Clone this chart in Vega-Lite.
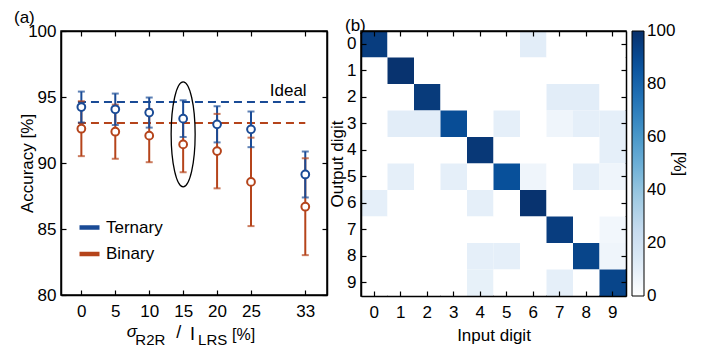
{
  "$schema": "https://vega.github.io/schema/vega-lite/v6.json",
  "background": "white",
  "padding": {"left": 13, "top": 8, "right": 0, "bottom": 0},
  "config": {
    "font": "Liberation Sans",
    "view": {"stroke": "black", "strokeWidth": 1.5},
    "axis": {
      "grid": false,
      "domainColor": "black",
      "domainWidth": 1.5,
      "tickColor": "black",
      "tickSize": -5,
      "tickWidth": 1.2,
      "labelPadding": 10,
      "labelFontSize": 17,
      "labelColor": "black",
      "titleFontSize": 17,
      "titleColor": "black",
      "titleFontWeight": "normal"
    },
    "title": {"fontSize": 17, "fontWeight": "normal", "color": "black", "anchor": "start", "frame": "group"},
    "legend": {"labelFontSize": 17, "labelColor": "black", "titleFontSize": 17, "titleFontWeight": "normal", "titleColor": "black"}
  },
  "datasets": {
    "acc": [
      {"sigma": 0, "series": "Binary", "acc": 92.6, "lo": 90.52, "hi": 94.68},
      {"sigma": 5, "series": "Binary", "acc": 92.37, "lo": 90.32, "hi": 94.42},
      {"sigma": 10, "series": "Binary", "acc": 92.07, "lo": 90.06, "hi": 94.08},
      {"sigma": 15, "series": "Binary", "acc": 91.41, "lo": 89.3, "hi": 93.52},
      {"sigma": 20, "series": "Binary", "acc": 90.9, "lo": 88.08, "hi": 93.72},
      {"sigma": 25, "series": "Binary", "acc": 88.57, "lo": 85.22, "hi": 91.92},
      {"sigma": 33, "series": "Binary", "acc": 86.69, "lo": 83.02, "hi": 90.36},
      {"sigma": 0, "series": "Ternary", "acc": 94.24, "lo": 93.07, "hi": 95.41},
      {"sigma": 5, "series": "Ternary", "acc": 94.07, "lo": 92.88, "hi": 95.26},
      {"sigma": 10, "series": "Ternary", "acc": 93.82, "lo": 92.68, "hi": 94.96},
      {"sigma": 15, "series": "Ternary", "acc": 93.36, "lo": 91.97, "hi": 94.75},
      {"sigma": 20, "series": "Ternary", "acc": 92.93, "lo": 91.56, "hi": 94.3},
      {"sigma": 25, "series": "Ternary", "acc": 92.55, "lo": 91.2, "hi": 93.9},
      {"sigma": 33, "series": "Ternary", "acc": 89.13, "lo": 87.39, "hi": 90.87}
    ],
    "ideal": [
      {"series": "Binary", "xs": -0.5, "xe": 33, "v": 93.03},
      {"series": "Ternary", "xs": -0.5, "xe": 33, "v": 94.62}
    ],
    "cm": [
      {"out": 0, "inp": 0, "pct": 95}, {"out": 0, "inp": 1, "pct": 0}, {"out": 0, "inp": 2, "pct": 0}, {"out": 0, "inp": 3, "pct": 0}, {"out": 0, "inp": 4, "pct": 0}, {"out": 0, "inp": 5, "pct": 0}, {"out": 0, "inp": 6, "pct": 11}, {"out": 0, "inp": 7, "pct": 0}, {"out": 0, "inp": 8, "pct": 0}, {"out": 0, "inp": 9, "pct": 0},
      {"out": 1, "inp": 0, "pct": 0}, {"out": 1, "inp": 1, "pct": 99}, {"out": 1, "inp": 2, "pct": 0}, {"out": 1, "inp": 3, "pct": 0}, {"out": 1, "inp": 4, "pct": 0}, {"out": 1, "inp": 5, "pct": 0}, {"out": 1, "inp": 6, "pct": 0}, {"out": 1, "inp": 7, "pct": 0}, {"out": 1, "inp": 8, "pct": 0}, {"out": 1, "inp": 9, "pct": 0},
      {"out": 2, "inp": 0, "pct": 0}, {"out": 2, "inp": 1, "pct": 0}, {"out": 2, "inp": 2, "pct": 96}, {"out": 2, "inp": 3, "pct": 0}, {"out": 2, "inp": 4, "pct": 0}, {"out": 2, "inp": 5, "pct": 0}, {"out": 2, "inp": 6, "pct": 0}, {"out": 2, "inp": 7, "pct": 11}, {"out": 2, "inp": 8, "pct": 11}, {"out": 2, "inp": 9, "pct": 0},
      {"out": 3, "inp": 0, "pct": 0}, {"out": 3, "inp": 1, "pct": 11}, {"out": 3, "inp": 2, "pct": 11}, {"out": 3, "inp": 3, "pct": 89}, {"out": 3, "inp": 4, "pct": 0}, {"out": 3, "inp": 5, "pct": 10}, {"out": 3, "inp": 6, "pct": 0}, {"out": 3, "inp": 7, "pct": 6}, {"out": 3, "inp": 8, "pct": 10}, {"out": 3, "inp": 9, "pct": 10},
      {"out": 4, "inp": 0, "pct": 0}, {"out": 4, "inp": 1, "pct": 0}, {"out": 4, "inp": 2, "pct": 0}, {"out": 4, "inp": 3, "pct": 0}, {"out": 4, "inp": 4, "pct": 97}, {"out": 4, "inp": 5, "pct": 0}, {"out": 4, "inp": 6, "pct": 0}, {"out": 4, "inp": 7, "pct": 0}, {"out": 4, "inp": 8, "pct": 0}, {"out": 4, "inp": 9, "pct": 10},
      {"out": 5, "inp": 0, "pct": 0}, {"out": 5, "inp": 1, "pct": 10}, {"out": 5, "inp": 2, "pct": 0}, {"out": 5, "inp": 3, "pct": 10}, {"out": 5, "inp": 4, "pct": 0}, {"out": 5, "inp": 5, "pct": 88}, {"out": 5, "inp": 6, "pct": 6}, {"out": 5, "inp": 7, "pct": 0}, {"out": 5, "inp": 8, "pct": 10}, {"out": 5, "inp": 9, "pct": 6},
      {"out": 6, "inp": 0, "pct": 10}, {"out": 6, "inp": 1, "pct": 0}, {"out": 6, "inp": 2, "pct": 0}, {"out": 6, "inp": 3, "pct": 0}, {"out": 6, "inp": 4, "pct": 10}, {"out": 6, "inp": 5, "pct": 0}, {"out": 6, "inp": 6, "pct": 99}, {"out": 6, "inp": 7, "pct": 0}, {"out": 6, "inp": 8, "pct": 0}, {"out": 6, "inp": 9, "pct": 0},
      {"out": 7, "inp": 0, "pct": 0}, {"out": 7, "inp": 1, "pct": 0}, {"out": 7, "inp": 2, "pct": 0}, {"out": 7, "inp": 3, "pct": 0}, {"out": 7, "inp": 4, "pct": 0}, {"out": 7, "inp": 5, "pct": 0}, {"out": 7, "inp": 6, "pct": 0}, {"out": 7, "inp": 7, "pct": 95}, {"out": 7, "inp": 8, "pct": 0}, {"out": 7, "inp": 9, "pct": 5},
      {"out": 8, "inp": 0, "pct": 0}, {"out": 8, "inp": 1, "pct": 0}, {"out": 8, "inp": 2, "pct": 0}, {"out": 8, "inp": 3, "pct": 0}, {"out": 8, "inp": 4, "pct": 10}, {"out": 8, "inp": 5, "pct": 10}, {"out": 8, "inp": 6, "pct": 0}, {"out": 8, "inp": 7, "pct": 0}, {"out": 8, "inp": 8, "pct": 92}, {"out": 8, "inp": 9, "pct": 6},
      {"out": 9, "inp": 0, "pct": 0}, {"out": 9, "inp": 1, "pct": 0}, {"out": 9, "inp": 2, "pct": 0}, {"out": 9, "inp": 3, "pct": 0}, {"out": 9, "inp": 4, "pct": 9}, {"out": 9, "inp": 5, "pct": 0}, {"out": 9, "inp": 6, "pct": 0}, {"out": 9, "inp": 7, "pct": 10}, {"out": 9, "inp": 8, "pct": 0}, {"out": 9, "inp": 9, "pct": 92}
    ]
  },
  "spacing": -2,
  "resolve": {
    "scale": {"x": "independent", "y": "independent", "color": "independent", "fill": "independent"},
    "legend": {"color": "independent", "fill": "independent"}
  },
  "hconcat": [
    {
      "width": 266,
      "height": 264,
      "title": {"text": "(a)", "dx": -47, "offset": -18, "baseline": "alphabetic"},
      "layer": [
        {
          "layer": [
            {
              "data": {"name": "ideal"},
              "mark": {"type": "rule", "strokeDash": [8, 5], "strokeWidth": 2.2},
              "encoding": {
                "x": {"field": "xs", "type": "quantitative", "scale": {"domain": [-3, 36.2], "nice": false, "zero": false},
                      "axis": {"values": [0, 5, 10, 15, 20, 25, 33], "title": null, "labelPadding": 13.5}},
                "x2": {"field": "xe"},
                "y": {"field": "v", "type": "quantitative", "scale": {"domain": [80, 100], "nice": false, "zero": false},
                      "axis": {"values": [80, 85, 90, 95, 100], "title": "Accuracy [%]", "titleX": -34, "titleY": 132, "titleAngle": 270, "titleAlign": "center", "titleBaseline": "middle"}},
                "color": {"field": "series", "type": "nominal", "scale": {"domain": ["Ternary", "Binary"], "range": ["#1a4b96", "#b5441b"]},
                          "legend": {"orient": "none", "legendX": 16, "legendY": 184, "title": null, "symbolType": "stroke", "symbolSize": 400, "symbolStrokeWidth": 4.5, "symbolDash": [1, 0], "symbolOpacity": 1, "labelOffset": 4, "rowPadding": 4.5, "padding": 0, "labelFontSize": 17,
                                     "encode": {"symbols": {"update": {"opacity": {"value": 1}, "strokeOpacity": {"value": 1}, "fillOpacity": {"value": 1}}}}}}
              }
            },
            {
              "data": {"name": "acc"},
              "mark": {"type": "rule", "strokeWidth": 2},
              "encoding": {
                "x": {"field": "sigma", "type": "quantitative"},
                "y": {"field": "lo", "type": "quantitative"},
                "y2": {"field": "hi"},
                "color": {"field": "series", "type": "nominal"}
              }
            },
            {
              "data": {"name": "acc"},
              "mark": {"type": "tick", "orient": "horizontal", "size": 7, "thickness": 2},
              "encoding": {
                "x": {"field": "sigma", "type": "quantitative"},
                "y": {"field": "lo", "type": "quantitative"},
                "color": {"field": "series", "type": "nominal"}
              }
            },
            {
              "data": {"name": "acc"},
              "mark": {"type": "tick", "orient": "horizontal", "size": 7, "thickness": 2},
              "encoding": {
                "x": {"field": "sigma", "type": "quantitative"},
                "y": {"field": "hi", "type": "quantitative"},
                "color": {"field": "series", "type": "nominal"}
              }
            },
            {
              "data": {"name": "acc"},
              "mark": {"type": "point", "filled": true, "color": "white", "size": 60, "opacity": 1},
              "encoding": {
                "x": {"field": "sigma", "type": "quantitative"},
                "y": {"field": "acc", "type": "quantitative"}
              }
            },
            {
              "data": {"name": "acc"},
              "mark": {"type": "point", "filled": false, "size": 60, "strokeWidth": 2, "opacity": 1},
              "encoding": {
                "x": {"field": "sigma", "type": "quantitative"},
                "y": {"field": "acc", "type": "quantitative"},
                "color": {"field": "series", "type": "nominal"}
              }
            },
            {
              "data": {"values": [{"sigma": 15, "acc": 92.17}]},
              "mark": {"type": "point", "shape": "M0,-1A0.2286,1 0 1,1 0,1A0.2286,1 0 1,1 0,-1Z", "size": 11025, "filled": false, "stroke": "black", "strokeWidth": 1.3, "opacity": 1},
              "encoding": {"x": {"field": "sigma", "type": "quantitative"}, "y": {"field": "acc", "type": "quantitative"}}
            },
            {
              "data": {"values": [{"label": "Ideal", "sigma": 33.2, "acc": 95.05}]},
              "mark": {"type": "text", "align": "right", "baseline": "alphabetic", "fontSize": 17},
              "encoding": {"x": {"field": "sigma", "type": "quantitative"}, "y": {"field": "acc", "type": "quantitative"}, "text": {"field": "label"}}
            },
            {
              "data": {"values": [{"label": "σ", "sigma": 6.7, "acc": 76.82}]},
              "mark": {"type": "text", "align": "left", "baseline": "alphabetic", "fontSize": 17, "fontStyle": "italic"},
              "encoding": {"x": {"field": "sigma", "type": "quantitative"}, "y": {"field": "acc", "type": "quantitative"}, "text": {"field": "label"}}
            },
            {
              "data": {"values": [{"label": "R2R", "sigma": 7.95, "acc": 76.25}, {"label": "LRS", "sigma": 17.2, "acc": 76.25}]},
              "mark": {"type": "text", "align": "left", "baseline": "alphabetic", "fontSize": 15},
              "encoding": {"x": {"field": "sigma", "type": "quantitative"}, "y": {"field": "acc", "type": "quantitative"}, "text": {"field": "label"}}
            },
            {
              "data": {"values": [{"label": "/", "sigma": 14.0, "acc": 76.74}, {"label": "I", "sigma": 16.0, "acc": 76.59}]},
              "mark": {"type": "text", "align": "left", "baseline": "alphabetic", "fontSize": 18},
              "encoding": {"x": {"field": "sigma", "type": "quantitative"}, "y": {"field": "acc", "type": "quantitative"}, "text": {"field": "label"}}
            },
            {
              "data": {"values": [{"label": "[%]", "sigma": 22.2, "acc": 76.59}]},
              "mark": {"type": "text", "align": "left", "baseline": "alphabetic", "fontSize": 16},
              "encoding": {"x": {"field": "sigma", "type": "quantitative"}, "y": {"field": "acc", "type": "quantitative"}, "text": {"field": "label"}}
            }
          ]
        },
        {
          "data": {"name": "acc"},
          "mark": {"type": "point", "opacity": 0},
          "encoding": {
            "x": {"field": "sigma", "type": "quantitative", "scale": {"domain": [-3, 36.2], "nice": false, "zero": false},
                  "axis": {"orient": "top", "labels": false, "values": [0, 5, 10, 15, 20, 25, 33], "title": null}},
            "y": {"field": "acc", "type": "quantitative", "scale": {"domain": [80, 100], "nice": false, "zero": false},
                  "axis": {"orient": "right", "labels": false, "values": [80, 85, 90, 95, 100], "title": null}}
          }
        }
      ],
      "resolve": {"scale": {"x": "independent", "y": "independent"}}
    },
    {
      "width": 265,
      "height": 265,
      "title": {"text": "(b)", "dx": -16, "offset": -18, "baseline": "alphabetic"},
      "layer": [
        {
          "data": {"name": "cm"},
          "mark": {"type": "rect"},
          "encoding": {
            "x": {"field": "inp", "type": "ordinal", "scale": {"domain": [0, 1, 2, 3, 4, 5, 6, 7, 8, 9], "paddingInner": 0, "paddingOuter": 0},
                  "axis": {"title": "Input digit", "labelAngle": 0, "labelPadding": 13.5, "titlePadding": 7}},
            "y": {"field": "out", "type": "ordinal", "scale": {"domain": [0, 1, 2, 3, 4, 5, 6, 7, 8, 9], "paddingInner": 0, "paddingOuter": 0},
                  "axis": {"title": "Output digit", "titlePadding": 0}},
            "fill": {"field": "pct", "type": "quantitative",
                     "scale": {"domain": [0, 100], "range": ["#ffffff", "#deebf7", "#c6dbef", "#9ecae1", "#6baed6", "#4292c6", "#2171b5", "#08519c", "#08306b"], "interpolate": "rgb"},
                     "legend": {"orient": "right", "offset": 5, "direction": "vertical", "gradientLength": 265, "gradientThickness": 12, "gradientStrokeColor": "black", "gradientStrokeWidth": 1, "values": [0, 20, 40, 60, 80, 100], "labelOffset": 3, "labelFontSize": 17, "labelBaseline": "middle", "encode": {"labels": {"update": {"baseline": {"value": "middle"}}}}, "title": "[%]", "titleOrient": "right", "titleAngle": 270, "titleAnchor": "middle", "titlePadding": -5, "padding": 0}}
          }
        },
        {
          "data": {"name": "cm"},
          "mark": {"type": "rect", "opacity": 0},
          "encoding": {
            "x": {"field": "inp", "type": "ordinal", "scale": {"domain": [0, 1, 2, 3, 4, 5, 6, 7, 8, 9], "paddingInner": 0, "paddingOuter": 0},
                  "axis": {"orient": "top", "labels": false, "title": null}},
            "y": {"field": "out", "type": "ordinal", "scale": {"domain": [0, 1, 2, 3, 4, 5, 6, 7, 8, 9], "paddingInner": 0, "paddingOuter": 0},
                  "axis": {"orient": "right", "labels": false, "title": null}}
          }
        }
      ],
      "resolve": {"scale": {"x": "independent", "y": "independent"}}
    }
  ]
}
